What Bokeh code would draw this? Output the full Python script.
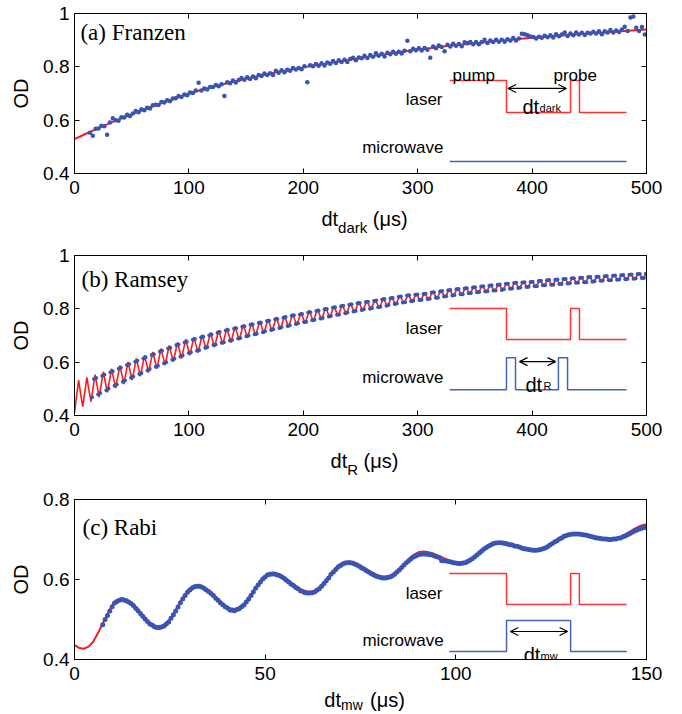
import numpy as np
from bokeh.plotting import figure
from bokeh.layouts import column
from bokeh.models import (Range1d, LinearAxis, FixedTicker, NumeralTickFormatter,
                          CustomJSTickFormatter, Label, Arrow, OpenHead)
from bokeh.embed import file_html
from bokeh.resources import INLINE

# ---------------- (a) Franzen: OD vs dark time ----------------
FRANZEN_DOT_T0, FRANZEN_DOT_DT = 13.5, 2.5
franzen_od = [
    .553, .542, .568, .569, .579, .577, .545, .591, .607, .600,
    .598, .611, .610, .620, .616, .625, .634, .630, .641, .637,
    .647, .644, .656, .658, .657, .668, .666, .675, .671, .681,
    .682, .691, .687, .696, .693, .704, .702, .711, .740, .711,
    .719, .715, .724, .724, .732, .727, .735, .691, .742, .738,
    .749, .741, .751, .758, .752, .761, .754, .764, .757, .769,
    .766, .775, .769, .776, .769, .785, .778, .787, .780, .789,
    .785, .796, .790, .796, .791, .802, .742, .806, .802, .811,
    .804, .813, .805, .816, .812, .822, .814, .825, .818, .827,
    .818, .829, .834, .825, .835, .832, .842, .833, .844, .838,
    .851, .842, .849, .839, .853, .847, .857, .849, .857, .850,
    .860, .898, .858, .868, .862, .870, .861, .871, .864, .834,
    .876, .870, .880, .874, .858, .883, .876, .887, .879, .886,
    .877, .892, .888, .893, .885, .893, .885, .893, .902, .889,
    .899, .893, .902, .894, .902, .894, .903, .899, .908, .899,
    .906, .924, .922, .918, .914, .912, .906, .913, .909, .917,
    .911, .918, .910, .922, .915, .921, .929, .916, .925, .918,
    .929, .921, .928, .919, .928, .925, .932, .925, .933, .922,
    .933, .929, .938, .929, .936, .931, .940, .950, .934, .985,
    .989, .947, .934, .949, .921]
FRANZEN_FIT_DT = 10.0
franzen_fit = [
    .529, .549, .568, .587, .605, .622, .639, .655, .670, .685,
    .700, .712, .724, .735, .745, .755, .765, .774, .782, .790,
    .798, .805, .812, .819, .826, .833, .840, .846, .852, .859,
    .865, .870, .875, .880, .884, .888, .893, .897, .901, .905,
    .909, .912, .916, .919, .922, .925, .928, .931, .934, .937, .940]

# ---------------- (b) Ramsey: OD vs free precession time ----------------
RAMSEY_FIT_DT = 1.8
ramsey_fit = [
    .411, .472, .533, .480, .433, .488, .543, .496, .452, .503, .553, .510,
    .469, .517, .564, .524, .487, .532, .576, .539, .503, .546, .588, .553,
    .518, .560, .601, .567, .533, .573, .614, .581, .547, .586, .626, .593,
    .562, .600, .638, .607, .575, .613, .651, .620, .589, .626, .663, .632,
    .602, .638, .674, .644, .614, .650, .686, .656, .626, .660, .694, .665,
    .636, .669, .703, .674, .647, .679, .711, .684, .657, .688, .720, .693,
    .666, .697, .728, .701, .674, .704, .734, .708, .683, .712, .741, .716,
    .691, .720, .749, .723, .699, .727, .755, .730, .708, .735, .762, .738,
    .716, .742, .769, .745, .723, .749, .775, .752, .731, .756, .782, .759,
    .738, .763, .787, .766, .744, .769, .794, .772, .752, .776, .799, .779,
    .758, .782, .806, .785, .766, .789, .811, .792, .772, .794, .817, .797,
    .779, .800, .822, .803, .785, .806, .828, .809, .791, .811, .831, .813,
    .797, .816, .835, .819, .802, .821, .841, .824, .808, .827, .846, .830,
    .814, .832, .850, .835, .819, .837, .855, .840, .824, .841, .858, .843,
    .828, .845, .862, .847, .834, .850, .866, .852, .838, .854, .870, .856,
    .842, .858, .874, .861, .847, .863, .879, .865, .851, .866, .882, .868,
    .855, .870, .885, .871, .858, .873, .888, .875, .862, .877, .892, .878,
    .865, .880, .894, .881, .868, .883, .898, .885, .873, .887, .900, .888,
    .876, .890, .903, .891, .878, .892, .906, .894, .881, .895, .909, .896,
    .884, .898, .911, .899, .886, .900, .913, .901, .890, .903, .915, .904,
    .893, .905, .918, .907, .895, .907, .920, .908, .897, .910, .922, .911,
    .899, .912, .924, .913, .901, .914, .926, .915, .904, .916, .927, .917,
    .907, .918, .929, .919, .909, .920, .932, .921, .911, .922, .934, .923,
    .913, .924, .936, .925]
RAMSEY_DOT_T0, RAMSEY_DOT_DT = 15.3, 1.8
ramsey_od = [
    .468, .537, .541, .479, .484, .549, .553, .495, .501, .562, .566, .512,
    .516, .575, .579, .527, .531, .589, .592, .542, .546, .602, .605, .556,
    .559, .614, .618, .569, .574, .627, .630, .583, .587, .640, .643, .596,
    .600, .651, .654, .609, .613, .664, .666, .621, .625, .674, .677, .634,
    .637, .684, .687, .643, .646, .693, .695, .654, .657, .701, .704, .664,
    .666, .710, .713, .673, .675, .719, .721, .681, .683, .725, .727, .689,
    .691, .733, .735, .697, .700, .740, .741, .705, .707, .747, .748, .712,
    .716, .754, .755, .721, .723, .761, .762, .728, .731, .767, .769, .736,
    .738, .774, .776, .743, .746, .779, .781, .751, .752, .786, .787, .757,
    .759, .792, .794, .764, .766, .798, .799, .771, .773, .804, .806, .778,
    .779, .810, .812, .783, .786, .815, .817, .790, .792, .821, .822, .796,
    .798, .826, .827, .800, .803, .829, .831, .806, .808, .835, .837, .812,
    .814, .840, .841, .818, .820, .845, .846, .824, .825, .850, .851, .828,
    .830, .853, .854, .833, .834, .856, .857, .837, .838, .861, .862, .842,
    .842, .865, .867, .846, .847, .870, .871, .850, .852, .873, .874, .855,
    .855, .876, .877, .858, .859, .880, .881, .862, .863, .884, .885, .865,
    .866, .887, .888, .869, .869, .890, .891, .871, .873, .894, .894, .875,
    .876, .897, .898, .878, .880, .899, .900, .882, .883, .901, .902, .885,
    .885, .904, .905, .888, .888, .907, .908, .890, .890, .909, .910, .893,
    .893, .912, .912, .895, .896, .915, .915, .898, .898, .917, .917, .900,
    .900, .919, .919, .902, .903, .920, .920, .905, .906, .922, .923, .907,
    .907, .924, .925, .909, .910, .926, .927, .911, .912, .928, .929, .913,
    .914, .931, .931, .916, .916, .932]

# ---------------- (c) Rabi: OD vs microwave pulse length ----------------
RABI_FIT_DT = 1.234375
rabi_fit = [
    .436, .429, .427, .432, .445, .466, .490, .514, .535, .548, .553,
    .550, .543, .531, .517, .503, .492, .484, .481,
    .485, .496, .513, .534, .554, .571, .582, .586,
    .584, .577, .568, .556, .545, .535, .528, .526,
    .530, .539, .554, .572, .589, .604, .614, .617,
    .615, .610, .602, .593, .584, .576, .571, .569,
    .572, .580, .593, .607, .622, .634, .642, .645,
    .644, .640, .633, .626, .619, .613, .608, .607,
    .609, .616, .627, .639, .651, .661, .668, .670,
    .669, .666, .661, .656, .651, .646, .643, .642,
    .644, .650, .658, .668, .678, .686, .692, .694,
    .693, .691, .688, .685, .681, .678, .676, .675,
    .677, .681, .688, .696, .703, .710, .714, .716,
    .716, .714, .712, .709, .706, .704, .703, .702,
    .703, .707, .713, .720, .727, .733, .737, .738]
RABI_DOT_T0, RABI_DOT_DT = 7.40625, 0.6171875
rabi_od = [
    .487, .500, .510, .521, .532, .541, .545, .548,
    .550, .549, .547, .544, .540, .535, .528, .522,
    .515, .508, .501, .495, .489, .486, .482, .480,
    .480, .481, .484, .489, .494, .503, .512, .521,
    .531, .542, .551, .560, .568, .574, .579, .582,
    .583, .583, .581, .578, .574, .570, .565, .560,
    .553, .548, .542, .537, .532, .529, .524, .523,
    .522, .525, .527, .532, .536, .544, .551, .560,
    .569, .578, .586, .594, .601, .606, .611, .613,
    .614, .614, .612, .610, .607, .603, .598, .594,
    .589, .585, .580, .577, .572, .570, .567, .566,
    .566, .567, .569, .573, .577, .583, .590, .597,
    .604, .613, .619, .625, .631, .635, .639, .641,
    .642, .642, .641, .639, .636, .633, .629, .626,
    .622, .619, .615, .612, .609, .607, .605, .604,
    .604, .605, .606, .609, .613, .619, .624, .630,
    .636, .642, .647, .652, .656, .659, .662, .663,
    .664, .664, .663, .662, .661, .659, .657, .655,
    .647, .647, .646, .645, .644, .642, .641, .640,
    .640, .641, .642, .645, .648, .652, .656, .661,
    .666, .671, .676, .680, .684, .687, .690, .691,
    .692, .692, .691, .690, .689, .687, .686, .684,
    .683, .681, .679, .677, .676, .675, .674, .673,
    .673, .674, .675, .677, .679, .682, .686, .690,
    .694, .697, .701, .704, .708, .710, .712, .713,
    .714, .714, .714, .713, .712, .711, .710, .708,
    .707, .705, .704, .703, .702, .701, .701, .700,
    .700, .701, .701, .703, .704, .707, .709, .712,
    .715, .718, .721, .724, .726, .728, .730, .731]

# ---------------- axes ticks ----------------
ticks_x_long = [0, 100, 200, 300, 400, 500]
ticks_x_rabi = [0, 50, 100, 150]
ticks_y_long = [0.4, 0.6, 0.8, 1.0]
ticks_y_rabi = [0.4, 0.6, 0.8]

# ---------------- pulse-sequence sketches (drawn in each panel's data space) ----
fr_laser_x = [328, 377.6, 377.6, 433.6, 433.6, 441.4, 441.4, 482.5]
fr_laser_y = [0.749, 0.749, 0.629, 0.629, 0.749, 0.749, 0.629, 0.629]
fr_mw_x = [328, 482.5]
fr_mw_y = [0.445, 0.445]

ra_laser_x = [328, 377.6, 377.6, 433.6, 433.6, 441.4, 441.4, 482.5]
ra_laser_y = [0.801, 0.801, 0.685, 0.685, 0.801, 0.801, 0.685, 0.685]
ra_mw_x = [328, 377.6, 377.6, 385.5, 385.5, 423, 423, 431, 431, 482.5]
ra_mw_y = [0.497, 0.497, 0.617, 0.617, 0.497, 0.497, 0.617, 0.617, 0.497, 0.497]

rb_laser_x = [98.3, 113.3, 113.3, 130.1, 130.1, 132.4, 132.4, 144.8]
rb_laser_y = [0.615, 0.615, 0.5375, 0.5375, 0.615, 0.615, 0.5375, 0.5375]
rb_mw_x = [98.3, 113.3, 113.3, 130.1, 130.1, 144.8]
rb_mw_y = [0.42, 0.42, 0.4975, 0.4975, 0.42, 0.42]

FIT_RED = "#ff1a1a"
DOT_BLUE = "#3a54b4"
SKETCH_RED = "#ff3030"
SKETCH_BLUE = "#4862b8"
SANS = "Liberation Sans"
SERIF = "Liberation Serif"

BORDER_L, BORDER_R = 74, 36
BOTTOM_BORDER = 29


def make_panel(height, border_top, xmax, ymax, xticks, yticks):
    p = figure(width=682, height=height,
               x_range=Range1d(0, xmax), y_range=Range1d(0.4, ymax),
               output_backend="svg", toolbar_location=None,
               min_border_left=BORDER_L, min_border_right=BORDER_R,
               min_border_top=border_top, min_border_bottom=BOTTOM_BORDER)
    p.grid.visible = False
    p.outline_line_color = "black"
    p.outline_line_width = 1
    p.background_fill_color = "white"
    p.border_fill_color = "white"

    bottom = p.below[0]
    left = p.left[0]
    top = LinearAxis()
    right = LinearAxis()
    p.add_layout(top, "above")
    p.add_layout(right, "right")

    for ax, ticks in ((bottom, xticks), (top, xticks), (left, yticks), (right, yticks)):
        ax.ticker = FixedTicker(ticks=ticks)
        ax.major_tick_in = 5
        ax.major_tick_out = 0
        ax.minor_tick_in = 0
        ax.minor_tick_out = 0
        ax.axis_line_color = "black"
        ax.major_tick_line_color = "black"
        ax.major_label_text_font = SANS
        ax.major_label_text_font_size = "19px"
        ax.major_label_text_color = "black"

    # mirrored tick marks on the top and right edges, without numbers
    for ax in (top, right):
        ax.formatter = CustomJSTickFormatter(code="return ''")
        ax.major_label_text_font_size = "0px"
        ax.major_label_standoff = 0

    bottom.major_label_standoff = 7
    left.major_label_standoff = 5
    left.formatter = NumeralTickFormatter(format="0.[0]")
    left.axis_label = "OD"
    left.axis_label_text_font = SANS
    left.axis_label_text_font_size = "20px"
    left.axis_label_text_font_style = "normal"
    left.axis_label_text_color = "black"
    left.axis_label_standoff = 8
    return p


def make_caption(height, xmax):
    # strip under a panel carrying its x-axis title (y counts pixels from the top)
    c = figure(width=682, height=height,
               x_range=Range1d(0, xmax), y_range=Range1d(height, 0),
               x_axis_type=None, y_axis_type=None,
               output_backend="svg", toolbar_location=None,
               min_border_left=BORDER_L, min_border_right=BORDER_R,
               min_border_top=0, min_border_bottom=0)
    c.grid.visible = False
    c.outline_line_color = None
    c.background_fill_color = "white"
    c.border_fill_color = "white"
    return c


def text(p, x, y, s, size, font=SANS, align="left"):
    p.add_layout(Label(x=x, y=y, text=s, text_font=font,
                       text_font_size=f"{size}px", text_align=align,
                       text_baseline="alphabetic", text_color="black"))


def double_arrow(p, x0, x1, y):
    p.add_layout(Arrow(start=OpenHead(size=8, line_width=1.2, line_color="black"),
                       end=OpenHead(size=8, line_width=1.2, line_color="black"),
                       x_start=x0, y_start=y, x_end=x1, y_end=y,
                       line_width=1.2, line_color="black"))


def x_title(c, x_main, x_sub, x_unit, sub, base, sub_base, sub_size=15):
    text(c, x_main, base, "dt", 20)
    text(c, x_sub, sub_base, sub, sub_size)
    text(c, x_unit, base, "(\u03bcs)", 20)


# ---- panel (a)
pa = make_panel(202, 13, 500, 1.0, ticks_x_long, ticks_y_long)
t_fr_dots = FRANZEN_DOT_T0 + FRANZEN_DOT_DT * np.arange(len(franzen_od))
t_fr_fit = FRANZEN_FIT_DT * np.arange(len(franzen_fit))
pa.line(t_fr_fit, franzen_fit, line_color=FIT_RED, line_width=2)
pa.scatter(t_fr_dots, franzen_od, size=4.5, color=DOT_BLUE, line_width=0)
pa.line(fr_laser_x, fr_laser_y, line_color=SKETCH_RED, line_width=1.5)
pa.line(fr_mw_x, fr_mw_y, line_color=SKETCH_BLUE, line_width=1.5)
double_arrow(pa, 379, 430, 0.719)
text(pa, 330.4, 0.767, "pump", 17)
text(pa, 418.7, 0.767, "probe", 17)
text(pa, 321.7, 0.677, "laser", 17, align="right")
text(pa, 322.5, 0.4975, "microwave", 17, align="right")
text(pa, 391.6, 0.649, "dt", 20)
text(pa, 406.5, 0.646, "dark", 11)
text(pa, 5.2, 0.928, "(a) Franzen", 23, font=SERIF)
ca = make_caption(38, 500)
x_title(ca, 215.8, 230.4, 260.8, "dark", base=16, sub_base=25)

# ---- panel (b)
pb = make_panel(204, 15, 500, 1.0, ticks_x_long, ticks_y_long)
t_ra_fit = RAMSEY_FIT_DT * np.arange(len(ramsey_fit))
t_ra_dots = RAMSEY_DOT_T0 + RAMSEY_DOT_DT * np.arange(len(ramsey_od))
pb.line(t_ra_fit, ramsey_fit, line_color=FIT_RED, line_width=1.6)
pb.scatter(t_ra_dots, ramsey_od, size=4, color=DOT_BLUE, line_width=0)
pb.line(ra_laser_x, ra_laser_y, line_color=SKETCH_RED, line_width=1.5)
pb.line(ra_mw_x, ra_mw_y, line_color=SKETCH_BLUE, line_width=1.5)
double_arrow(pb, 389, 420.5, 0.602)
text(pb, 321.7, 0.725, "laser", 17, align="right")
text(pb, 322.5, 0.541, "microwave", 17, align="right")
text(pb, 394.2, 0.516, "dt", 20)
text(pb, 410.0, 0.5125, "R", 11)
text(pb, 6.1, 0.91, "(b) Ramsey", 23, font=SERIF)
cb = make_caption(40, 500)
x_title(cb, 223.8, 238.4, 252.7, "R", base=16, sub_base=25)

# ---- panel (c)
pc = make_panel(204, 15, 150, 0.8, ticks_x_rabi, ticks_y_rabi)
t_rb_fit = RABI_FIT_DT * np.arange(len(rabi_fit))
t_rb_dots = RABI_DOT_T0 + RABI_DOT_DT * np.arange(len(rabi_od))
pc.line(t_rb_fit, rabi_fit, line_color=FIT_RED, line_width=2)
pc.scatter(t_rb_dots, rabi_od, size=5, color=DOT_BLUE, line_width=0)
pc.line(rb_laser_x, rb_laser_y, line_color=SKETCH_RED, line_width=1.5)
pc.line(rb_mw_x, rb_mw_y, line_color=SKETCH_BLUE, line_width=1.5)
double_arrow(pc, 114.3, 129.3, 0.47)
text(pc, 96.5, 0.564, "laser", 17, align="right")
text(pc, 96.8, 0.4475, "microwave", 17, align="right")
text(pc, 117.8, 0.4125, "dt", 20)
text(pc, 122.2, 0.41, "mw", 11)
text(pc, 2.1, 0.731, "(c) Rabi", 23, font=SERIF)
cc = make_caption(26, 150)
x_title(cc, 65.5, 69.9, 77.5, "mw", base=11, sub_base=16, sub_size=14)

layout = column(pa, ca, pb, cb, pc, cc)
open("out.html", "w").write(file_html(layout, INLINE))
